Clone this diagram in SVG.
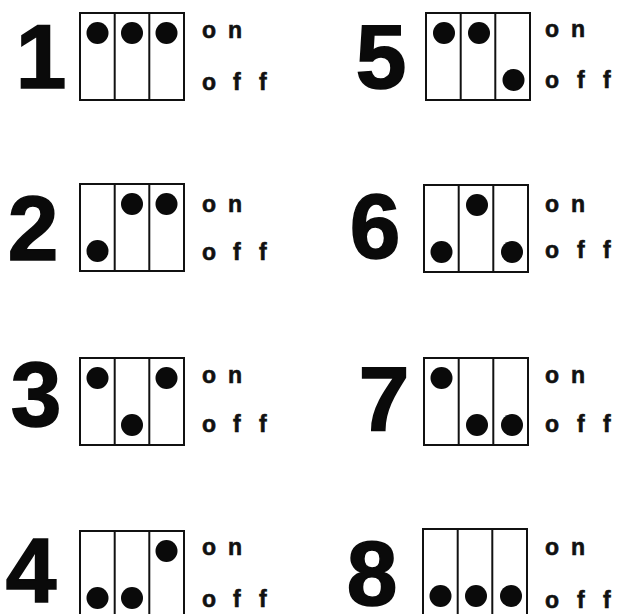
<svg xmlns="http://www.w3.org/2000/svg" width="620" height="614" viewBox="0 0 620 614">
<style>
.num{font-family:"Liberation Sans",Arial,sans-serif;font-weight:bold;font-size:91px;fill:#0a0a0a;stroke:#0a0a0a;stroke-width:1.6;text-anchor:middle}
.lbl{font-family:"Liberation Sans",Arial,sans-serif;font-weight:bold;font-size:23px;fill:#111;stroke:#111;stroke-width:0.6}
.box{fill:#fff;stroke:#111;stroke-width:2}
.div{stroke:#111;stroke-width:2}
.dot{fill:#0a0a0a}
</style>
<defs>
<g id="sw">
<rect class="box" x="0" y="0" width="104" height="87"/>
<line class="div" x1="34.7" y1="0" x2="34.7" y2="87"/>
<line class="div" x1="69.3" y1="0" x2="69.3" y2="87"/>
</g>
</defs>
<rect width="620" height="614" fill="#fff"/>

<g id="s1">
<text class="num" x="41" y="88">1</text>
<use href="#sw" x="80" y="13"/>
<circle class="dot" cx="97.5" cy="33" r="11"/>
<circle class="dot" cx="132" cy="33" r="11"/>
<circle class="dot" cx="166.5" cy="33" r="11"/>
<text class="lbl" x="202 228" y="38">on</text>
<text class="lbl" x="202 233 259" y="90">off</text>
</g>

<g id="s2">
<text class="num" x="33" y="260">2</text>
<use href="#sw" x="80" y="184"/>
<circle class="dot" cx="97.5" cy="251" r="11"/>
<circle class="dot" cx="132" cy="204" r="11"/>
<circle class="dot" cx="166.5" cy="204" r="11"/>
<text class="lbl" x="202 228" y="212">on</text>
<text class="lbl" x="202 233 259" y="260">off</text>
</g>

<g id="s3">
<text class="num" x="36" y="426">3</text>
<use href="#sw" x="80" y="358"/>
<circle class="dot" cx="97.5" cy="378" r="11"/>
<circle class="dot" cx="132" cy="425" r="11"/>
<circle class="dot" cx="166.5" cy="378" r="11"/>
<text class="lbl" x="202 228" y="383">on</text>
<text class="lbl" x="202 233 259" y="432">off</text>
</g>

<g id="s4">
<text class="num" x="31" y="602">4</text>
<use href="#sw" x="80" y="531"/>
<circle class="dot" cx="97.5" cy="598" r="11"/>
<circle class="dot" cx="132" cy="598" r="11"/>
<circle class="dot" cx="166.5" cy="551" r="11"/>
<text class="lbl" x="202 228" y="555">on</text>
<text class="lbl" x="202 233 259" y="607">off</text>
</g>

<g id="s5">
<text class="num" x="381" y="88">5</text>
<use href="#sw" x="426" y="13"/>
<circle class="dot" cx="444" cy="33" r="11"/>
<circle class="dot" cx="479" cy="33" r="11"/>
<circle class="dot" cx="513.5" cy="80" r="11"/>
<text class="lbl" x="545 571" y="37">on</text>
<text class="lbl" x="545 577 603" y="88">off</text>
</g>

<g id="s6">
<text class="num" x="375" y="258">6</text>
<use href="#sw" x="424" y="185"/>
<circle class="dot" cx="441.5" cy="252" r="11"/>
<circle class="dot" cx="477" cy="205" r="11"/>
<circle class="dot" cx="512" cy="252" r="11"/>
<text class="lbl" x="545 571" y="212">on</text>
<text class="lbl" x="545 577 603" y="258">off</text>
</g>

<g id="s7">
<text class="num" x="384" y="430">7</text>
<use href="#sw" x="424" y="358"/>
<circle class="dot" cx="441.5" cy="378" r="11"/>
<circle class="dot" cx="477" cy="425" r="11"/>
<circle class="dot" cx="512" cy="425" r="11"/>
<text class="lbl" x="545 571" y="383">on</text>
<text class="lbl" x="545 577 603" y="432">off</text>
</g>

<g id="s8">
<text class="num" x="372" y="605">8</text>
<use href="#sw" x="423" y="529"/>
<circle class="dot" cx="440.5" cy="596" r="11"/>
<circle class="dot" cx="476" cy="596" r="11"/>
<circle class="dot" cx="511" cy="596" r="11"/>
<text class="lbl" x="545 571" y="555">on</text>
<text class="lbl" x="545 577 603" y="608">off</text>
</g>

<g id="connectors"/>
</svg>
